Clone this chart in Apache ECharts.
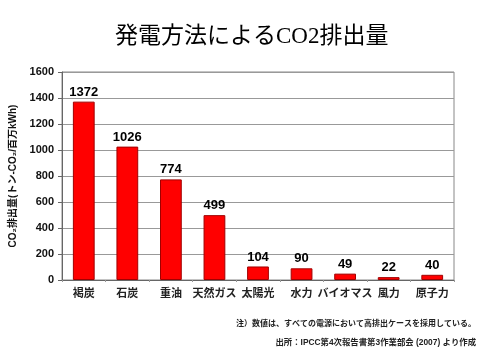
<!DOCTYPE html>
<html><head><meta charset="utf-8">
<script src="https://cdn.jsdelivr.net/npm/echarts@6/dist/echarts.min.js"></script>
<style>html,body{margin:0;padding:0;background:#fff}#c{width:480px;height:360px}</style>
</head><body><div id="c"></div>
<script>
const categories = ['褐炭','石炭','重油','天然ガス','太陽光','水力','バイオマス','風力','原子力'];
const values = [1372, 1026, 774, 499, 104, 90, 49, 22, 40];
const yTicks = [0, 200, 400, 600, 800, 1000, 1200, 1400, 1600];
const titleText = '発電方法によるCO2排出量';
const yName = 'CO₂排出量(トン-CO₂/百万kWh)';
const note1 = '注）数値は、すべての電源において高排出ケースを採用している。';
const note2 = '出所：IPCC第4次報告書第3作業部会 (2007) より作成';

const chart = echarts.init(document.getElementById('c'));
const font = "Arial, 'Liberation Sans', 'Noto Sans CJK JP', sans-serif";
chart.setOption({
  animation: false,
  textStyle: { fontFamily: font },
  title: {
    text: titleText, left: 110, top: 20,
    textStyle: { fontFamily: "'Liberation Serif', 'Noto Sans CJK JP', serif", fontSize: 23, fontWeight: 'normal', color: '#000' }
  },
  graphic: [
    { type: 'text', right: 4, top: 320, style: { text: note1, fontSize: 8, fontWeight: 'bold', fill: '#222', fontFamily: font } },
    { type: 'text', right: 4, top: 338, style: { text: note2, fontSize: 8.4, fontWeight: 'bold', fill: '#222', fontFamily: font } }
  ],
  grid: { left: 62, right: 26, top: 72, bottom: 80, show: true, borderColor: '#888', borderWidth: 1 },
  xAxis: {
    type: 'category', data: categories,
    axisLine: { lineStyle: { color: '#666' } },
    axisTick: { show: true, length: 2, lineStyle: { color: '#999' } },
    axisLabel: { color: '#222', fontSize: 11, fontWeight: 'bold', margin: 8, interval: 0 }
  },
  yAxis: {
    type: 'value', min: 0, max: 1600, interval: 200,
    name: yName, nameLocation: 'middle', nameGap: 37,
    nameTextStyle: { color: '#111', fontSize: 10, fontWeight: 'bold' },
    axisLine: { show: true, lineStyle: { color: '#666' } },
    axisTick: { show: true, length: 4, lineStyle: { color: '#666' } },
    axisLabel: { color: '#111', fontSize: 11, fontWeight: 'bold', margin: 8,
      formatter: v => yTicks.includes(v) ? String(v) : '' },
    splitLine: { lineStyle: { color: '#999', width: 1 } }
  },
  series: [{
    type: 'bar', data: values, barWidth: '50%',
    itemStyle: { color: '#FF0000', borderColor: '#A00000', borderWidth: 1 },
    label: { show: true, position: 'top', color: '#000', fontSize: 13, fontWeight: 'bold', distance: 3 }
  }]
});
</script></body></html>
